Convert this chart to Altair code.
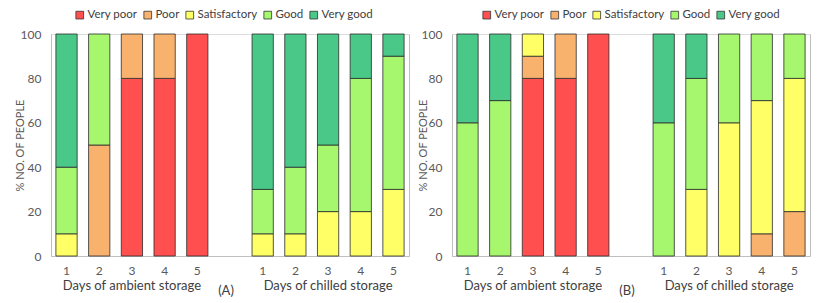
import altair as alt
import pandas as pd

categories = ["Very poor", "Poor", "Satisfactory", "Good", "Very good"]
colors = ["#FF4F4F", "#F9B26E", "#FFFF66", "#A6F76E", "#4AC888"]
slots = ["a1", "a2", "a3", "a4", "a5", "gap", "c1", "c2", "c3", "c4", "c5"]
bars = ["a1", "a2", "a3", "a4", "a5", "c1", "c2", "c3", "c4", "c5"]

# Panel (A)
a_very_poor = [0, 0, 80, 80, 100, 0, 0, 0, 0, 0]
a_poor = [0, 50, 20, 20, 0, 0, 0, 0, 0, 0]
a_satisfactory = [10, 0, 0, 0, 0, 10, 10, 20, 20, 30]
a_good = [30, 50, 0, 0, 0, 20, 30, 30, 60, 60]
a_very_good = [60, 0, 0, 0, 0, 70, 60, 50, 20, 10]

# Panel (B)
b_very_poor = [0, 0, 80, 80, 100, 0, 0, 0, 0, 0]
b_poor = [0, 0, 10, 20, 0, 0, 0, 0, 10, 20]
b_satisfactory = [0, 0, 10, 0, 0, 0, 30, 60, 60, 60]
b_good = [60, 70, 0, 0, 0, 60, 50, 40, 30, 20]
b_very_good = [40, 30, 0, 0, 0, 40, 20, 0, 0, 0]

group_slots = ["a3", "c3"]
group_labels = ["Days of ambient storage", "Days of chilled storage"]

W, H = 358, 222
FONT = "Lato"
TXT = "#404040"


def long_df(series):
    rows = []
    for ci, (cat, vals) in enumerate(zip(categories, series)):
        for slot, v in zip(bars, vals):
            if v > 0:
                rows.append({"slot": slot, "rating": cat, "order": ci, "value": v})
    return pd.DataFrame(rows)


def panel(series, tag, legend_x, title_x, label_pad):
    df = long_df(series)
    xscale = alt.Scale(domain=slots, paddingInner=0.35, paddingOuter=0.15)
    x = alt.X(
        "slot:N",
        scale=xscale,
        sort=slots,
        axis=alt.Axis(
            title=None,
            labelExpr="datum.value == 'gap' ? '' : substring(datum.value, 1)",
            labelAngle=0,
            ticks=False,
            labelPadding=9,
            labelFontSize=12,
            labelColor="#595959",
            labelFont=FONT,
            domainColor="#BFBFBF",
        ),
    )
    yscale = alt.Scale(domain=[0, 100])
    bars_layer = alt.Chart(df).mark_bar(stroke="#2b2b2b", strokeWidth=0.8).encode(
        x=x,
        y=alt.Y(
            "value:Q",
            stack="zero",
            scale=yscale,
            axis=alt.Axis(
                title="% NO. OF PEOPLE",
                values=[0, 20, 40, 60, 80, 100],
                grid=False,
                ticks=False,
                labelFontSize=12,
                labelColor="#595959",
                labelFont=FONT,
                labelPadding=label_pad,
                titleFont=FONT,
                titleFontSize=11,
                titleFontWeight="normal",
                titleColor="#595959",
                titleX=title_x,
                titleY=H / 2,
                titleBaseline="middle",
                titleAngle=270,
                domainColor="#BFBFBF",
            ),
        ),
        color=alt.Color(
            "rating:N",
            scale=alt.Scale(domain=categories, range=colors),
            legend=alt.Legend(
                title=None,
                orient="none",
                direction="horizontal",
                legendX=legend_x,
                legendY=-25,
                symbolType="square",
                symbolSize=60,
                symbolStrokeColor="#333333",
                symbolStrokeWidth=0.8,
                symbolOpacity=1,
                labelFont=FONT,
                labelFontSize=11.5,
                labelColor=TXT,
                columnPadding=4,
                labelOffset=2,
            ),
        ),
        order=alt.Order("order:Q"),
    )
    right_df = pd.DataFrame({"slot": ["c5"], "value": [0]})
    right_axis = alt.Chart(right_df).mark_tick(opacity=0).encode(
        x=alt.X("slot:N", scale=xscale, sort=slots),
        y=alt.Y(
            "value:Q",
            scale=yscale,
            axis=alt.Axis(
                orient="right",
                labels=False,
                ticks=False,
                grid=False,
                title=None,
                domainColor="#BFBFBF",
            ),
        ),
    )
    gdf = pd.DataFrame({"slot": group_slots, "label": group_labels})
    group_text = alt.Chart(gdf).mark_text(
        font=FONT, fontSize=13, color=TXT, baseline="middle"
    ).encode(
        x=alt.X("slot:N", scale=xscale, sort=slots),
        y=alt.value(H + 30),
        text="label:N",
    )
    tdf = pd.DataFrame({"slot": ["gap"], "label": [tag]})
    tag_text = alt.Chart(tdf).mark_text(
        font=FONT, fontSize=13, color=TXT, baseline="middle", dx=-4
    ).encode(
        x=alt.X("slot:N", scale=xscale, sort=slots),
        y=alt.value(H + 35),
        text="label:N",
    )
    return (
        alt.layer(bars_layer, right_axis, group_text, tag_text)
        .resolve_axis(y="independent")
        .properties(width=W, height=H)
    )


chart_a = panel([a_very_poor, a_poor, a_satisfactory, a_good, a_very_good], "(A)", 23, -31, 10)
chart_b = panel([b_very_poor, b_poor, b_satisfactory, b_good, b_very_good], "(B)", 29, -29, 10)

chart = (
    alt.hconcat(chart_a, chart_b, spacing=6)
    .resolve_legend(color="independent")
    .properties(padding={"left": 5, "top": 0, "right": 0, "bottom": 0})
    .configure_view(stroke=None)
    .configure(background="white")
)

chart.save("out.html", embed_options={"renderer": "svg", "actions": False})
